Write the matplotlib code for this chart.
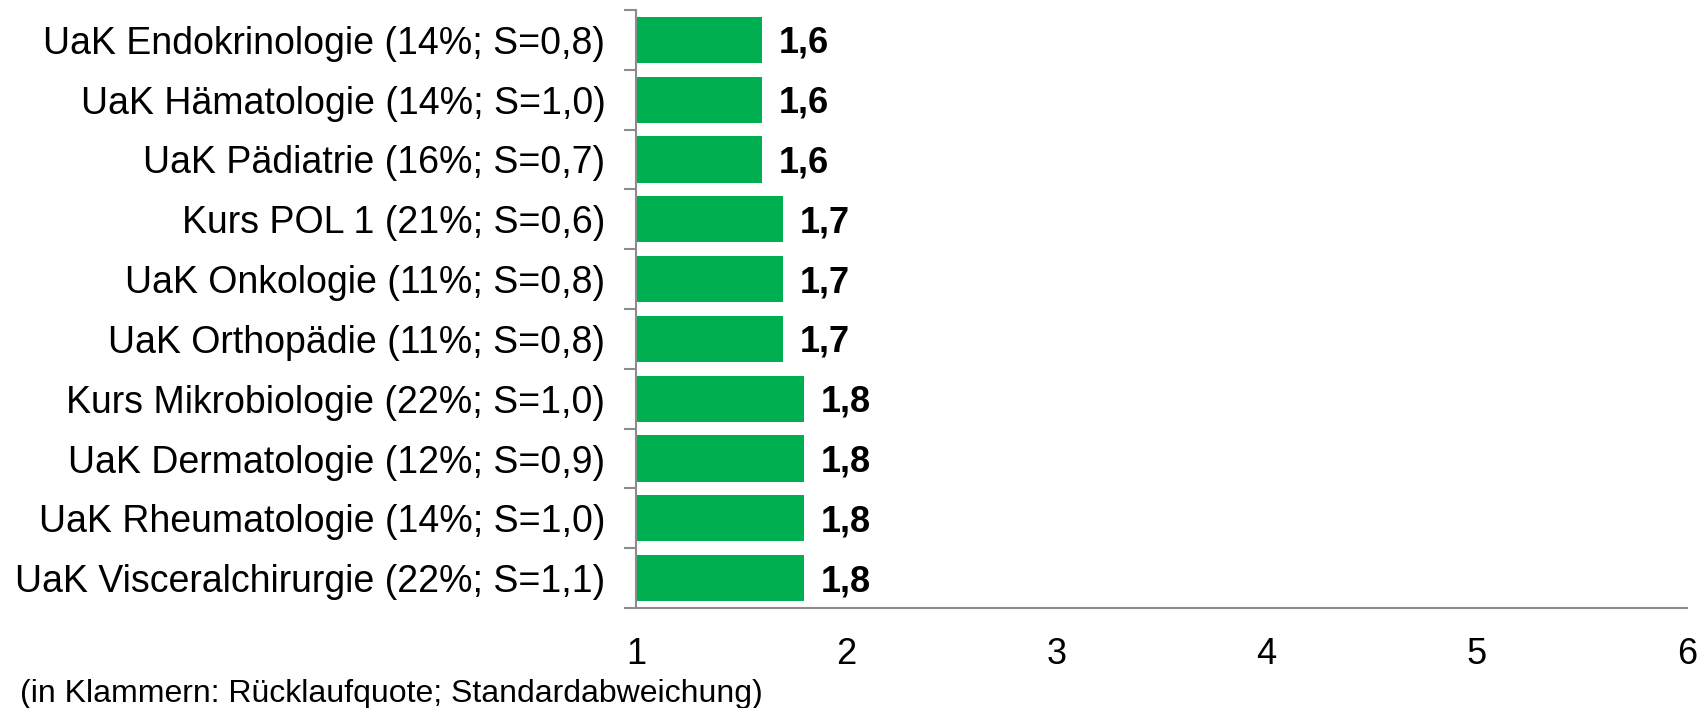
import numpy as np
import matplotlib.pyplot as plt

plt.rcParams['font.family'] = ['Liberation Sans', 'DejaVu Sans']

# --- data ---
labels = [
    "UaK Endokrinologie (14%; S=0,8)",
    "UaK Hämatologie (14%; S=1,0)",
    "UaK Pädiatrie (16%; S=0,7)",
    "Kurs POL 1 (21%; S=0,6)",
    "UaK Onkologie (11%; S=0,8)",
    "UaK Orthopädie (11%; S=0,8)",
    "Kurs Mikrobiologie (22%; S=1,0)",
    "UaK Dermatologie (12%; S=0,9)",
    "UaK Rheumatologie (14%; S=1,0)",
    "UaK Visceralchirurgie (22%; S=1,1)",
]
values = [1.6, 1.6, 1.6, 1.7, 1.7, 1.7, 1.8, 1.8, 1.8, 1.8]
x_ticks = [1, 2, 3, 4, 5, 6]
note = "(in Klammern: Rücklaufquote; Standardabweichung)"

GREEN = '#00B050'
GREY = '#8C8C8C'

fig = plt.figure(figsize=(17.06, 7.08), dpi=100)
ax = fig.add_axes([0.3728, 0.1412, 0.6161, 0.8447])

y = np.arange(len(labels))
base = 1
ax.barh(y, np.array(values) - base, left=base, height=0.77, color=GREEN)

# value labels: digits centred on the bar (baseline shifted down by half cap height)
for yi, v in zip(y, values):
    ax.annotate(f"{v:.1f}".replace('.', ','), (v, yi), xytext=(12, -9.3),
                textcoords='offset points', va='baseline', ha='left',
                fontsize=26, fontweight='bold')

ax.set_xlim(1, 6)
ax.set_ylim(len(labels) - 0.5, -0.5)
ax.set_xticks(x_ticks)
ax.set_xticklabels([str(t) for t in x_ticks], fontsize=26)
ax.tick_params(axis='x', length=0, pad=21)

ax.set_yticks(y)
ax.set_yticklabels(labels, fontsize=27)
ax.set_yticks(np.arange(-0.5, len(labels)), minor=True)
ax.tick_params(axis='y', which='major', length=0, pad=22)
ax.tick_params(axis='y', which='minor', length=9, width=1.5, color=GREY, direction='out')

for side in ['top', 'right']:
    ax.spines[side].set_visible(False)
for side in ['left', 'bottom']:
    ax.spines[side].set_color(GREY)
    ax.spines[side].set_linewidth(1.5)

fig.text(0.012, 0.0085, note, fontsize=23, ha='left', va='baseline')

fig.savefig('out.png', dpi=100)
